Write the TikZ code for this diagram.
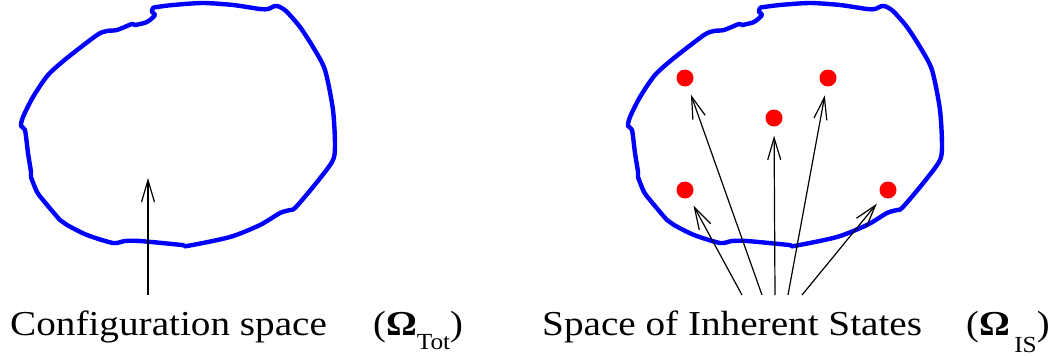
\documentclass[tikz,border=0pt]{standalone}
\usepackage{fontspec}
\setmainfont{Liberation Serif}
\usetikzlibrary{arrows.meta}
\begin{document}
\begin{tikzpicture}[x=1pt,y=-1pt,
  blob/.style={draw=blue, line width=4.4pt, line join=round},
  dot/.style={circle, fill=red, inner sep=0pt, minimum size=17pt},
  arr/.style={line width=1.2pt, -{Straight Barb[length=22pt,width=13pt]}, shorten >=9pt},
  lbl/.style={anchor=base west, inner sep=0pt, font=\fontsize{35}{40}\selectfont}]
\useasboundingbox (0,0) rectangle (1060,356);
% blobs
\foreach \s in {0,607}{
\draw[blob, xshift=\s pt] plot[smooth cycle, tension=0.45] coordinates {
(157,7) (173,5) (203,3) (233,5) (260,9) (268,9) (275,6) (280,7) (287,12) (300,27) (313,47) (325,70) (333,110) (335,147) (332,162) (313,187) (295,208) (290,210) (280,213) (260,225) (230,237) (187,246) (182,245) (140,241) (125,241) (113,243) (87,235) (67,225) (60,220) (43,200) (37,192) (31,177) (31,172) (28,153) (25,130) (21,126) (23,117) (33,97) (48,75) (67,58) (97,35) (107,31) (117,30) (132,24) (135,25) (147,22) (155,15) (152,12) (153,8)};
}
% left arrow
\coordinate (a0) at (148,295);
\coordinate (b0) at (148,178);
\draw[arr, shorten >=0pt] (a0) -- (b0);
% dots
\node[dot] (d1) at (685,78) {};
\node[dot] (d2) at (828,78) {};
\node[dot] (d3) at (774,118) {};
\node[dot] (d4) at (685,190) {};
\node[dot] (d5) at (888,190) {};
% arrow starts
\coordinate (s4) at (742,295);
\coordinate (s1) at (762,295);
\coordinate (s3) at (775,295);
\coordinate (s2) at (788,295);
\coordinate (s5) at (802,295);
\draw[arr] (s1) -- (d1);
\draw[arr] (s2) -- (d2);
\draw[arr] (s3) -- (d3);
\draw[arr] (s4) -- (d4);
\draw[arr] (s5) -- (d5);
% labels
\node[lbl] (l1) at (10,335) {\scalebox{1.12}[1]{Configuration space}};
\node[lbl] (l2) at (373,335) {\scalebox{1.1}[1]{(\textbf{Ω}\raisebox{-14pt}{\fontsize{23}{26}\selectfont Tot})}};
\node[lbl] (l3) at (542,335) {\scalebox{1.12}[1]{Space of Inherent States}};
\node[lbl] (l4) at (966,335) {\scalebox{1.1}[1]{(\textbf{Ω}\hspace{4pt}\raisebox{-17pt}{\fontsize{23}{26}\selectfont IS})}};
\end{tikzpicture}
\end{document}
